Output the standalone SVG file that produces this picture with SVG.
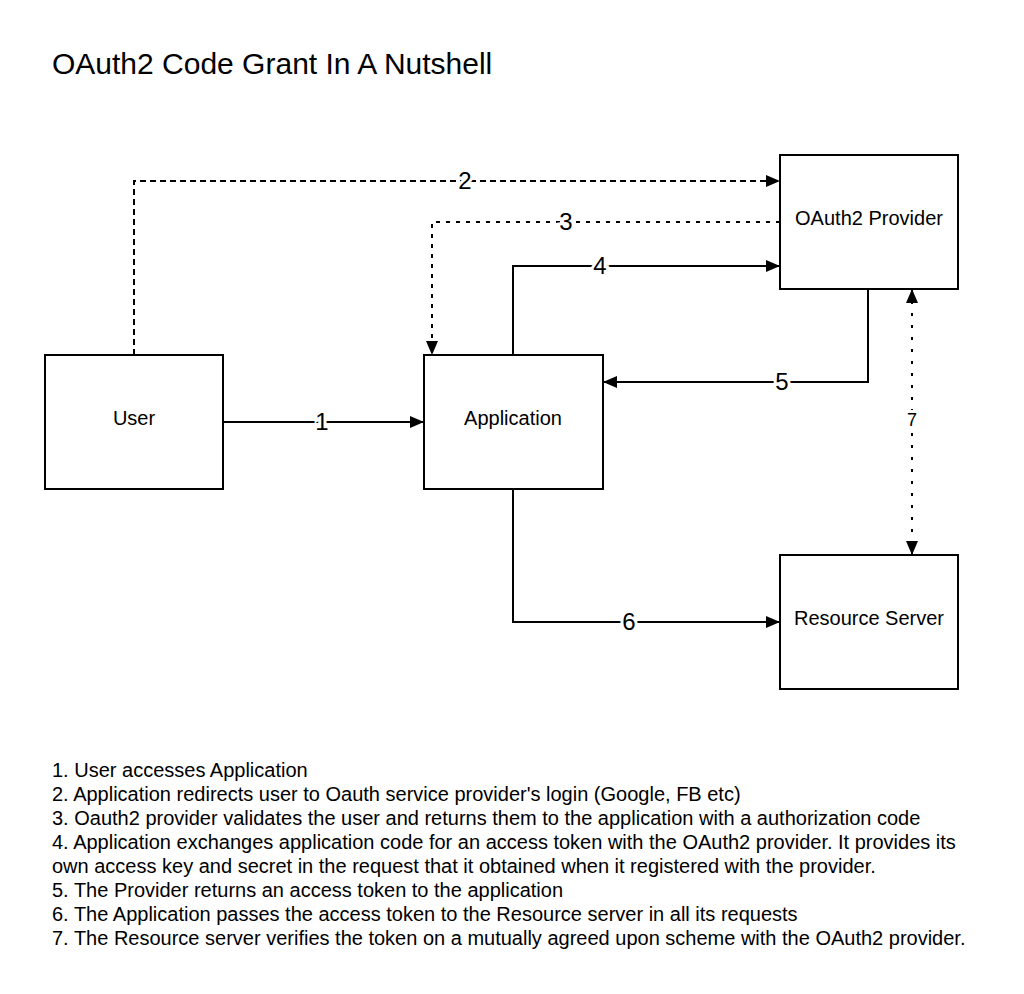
<svg xmlns="http://www.w3.org/2000/svg" width="1024" height="994" viewBox="0 0 1024 994">
<style>
text{font-family:"Liberation Sans",Arial,sans-serif;fill:#000}
.box{fill:#fff;stroke:#000;stroke-width:2}
.node{font-size:20px;text-anchor:middle}
.c{fill:none;stroke:#000;stroke-width:2}
.dash{stroke-dasharray:6 4}
.dot{stroke-dasharray:4 6}
.dot7{stroke-dasharray:3 9}
.lbl{font-size:24px;text-anchor:middle;stroke:#fff;stroke-width:6;paint-order:stroke}
.list{font-size:20px}
</style>
<defs>
<marker id="ah" viewBox="0 0 14 12" refX="14" refY="6" markerWidth="14" markerHeight="12" markerUnits="userSpaceOnUse" orient="auto-start-reverse">
<path d="M0,0 L14,6 L0,12 Z" fill="#000"/>
</marker>
</defs>
<rect width="1024" height="994" fill="#fff"/>
<text x="52" y="74" font-size="30">OAuth2 Code Grant In A Nutshell</text>

<g id="connectors">
<path class="c" d="M223,422 H424" marker-end="url(#ah)"/>
<path class="c dash" d="M134,355 V181 H780" marker-end="url(#ah)"/>
<path class="c dot" d="M780,222 H432 V355" marker-end="url(#ah)"/>
<path class="c" d="M513,355 V266 H780" marker-end="url(#ah)"/>
<path class="c" d="M868,289 V382 H603" marker-end="url(#ah)"/>
<path class="c" d="M513,489 V622 H780" marker-end="url(#ah)"/>
<path class="c dot7" d="M912,289 V555" marker-start="url(#ah)" marker-end="url(#ah)"/>
<text class="lbl" x="322" y="430">1</text>
<text class="lbl" x="465" y="189">2</text>
<text class="lbl" x="566" y="230">3</text>
<text class="lbl" x="600" y="274">4</text>
<text class="lbl" x="782" y="390">5</text>
<text class="lbl" x="629" y="630">6</text>
<text class="lbl" x="912" y="426" style="font-size:18px">7</text>
</g>

<g id="user"><rect class="box" x="45" y="355" width="178" height="134"/><text class="node" x="134" y="425">User</text></g>
<g id="application"><rect class="box" x="424" y="355" width="179" height="134"/><text class="node" x="513" y="425">Application</text></g>
<g id="provider"><rect class="box" x="780" y="155" width="178" height="134"/><text class="node" x="869" y="225">OAuth2 Provider</text></g>
<g id="resource"><rect class="box" x="780" y="555" width="178" height="134"/><text class="node" x="869" y="625">Resource Server</text></g>

<g id="legend">
<text class="list" x="52" y="777">1. User accesses Application</text>
<text class="list" x="52" y="801">2. Application redirects user to Oauth service provider's login (Google, FB etc)</text>
<text class="list" x="52" y="825">3. Oauth2 provider validates the user and returns them to the application with a authorization code</text>
<text class="list" x="52" y="849">4. Application exchanges application code for an access token with the OAuth2 provider. It provides its</text>
<text class="list" x="52" y="873">own access key and secret in the request that it obtained when it registered with the provider.</text>
<text class="list" x="52" y="897">5. The Provider returns an access token to the application</text>
<text class="list" x="52" y="921">6. The Application passes the access token to the Resource server in all its requests</text>
<text class="list" x="52" y="945">7. The Resource server verifies the token on a mutually agreed upon scheme with the OAuth2 provider.</text>
</g>
</svg>
